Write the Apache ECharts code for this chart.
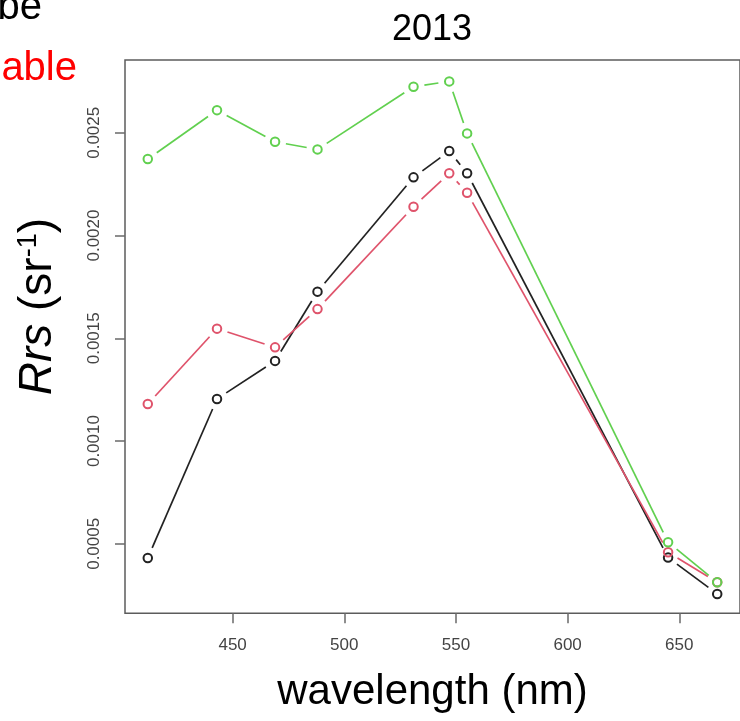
<!DOCTYPE html>
<html>
<head>
<meta charset="utf-8">
<script src="https://cdn.jsdelivr.net/npm/echarts@6/dist/echarts.min.js"></script>
<style>
html,body{margin:0;padding:0;background:#fff;}
#chart{width:740px;height:721px;}
</style>
</head>
<body>
<div id="chart"></div>
<script>
// ---- data ----
const wavelengths = [412, 443, 469, 488, 531, 547, 555, 645, 667];
const rrsBlack = [0.000431, 0.001205, 0.001390, 0.001727, 0.002283, 0.002411, 0.002303, 0.000433, 0.000256];
const rrsRed   = [0.001180, 0.001547, 0.001456, 0.001642, 0.002140, 0.002303, 0.002208, 0.000459, 0.000313];
const rrsGreen = [0.002372, 0.002610, 0.002456, 0.002419, 0.002724, 0.002750, 0.002497, 0.000508, 0.000313];
const xTicks = [450, 500, 550, 600, 650];
const yTicks = [0.0005, 0.0010, 0.0015, 0.0020, 0.0025];
const titleText = '2013';
const xTitle = 'wavelength (nm)';

// ---- chart ----
const FONT = 'Liberation Sans, Arial, sans-serif';
const GAP = 11; // px gap left around each point (R type = "b")
const groups = [
  { name: 'black', values: rrsBlack, color: '#222222' },
  { name: 'red',   values: rrsRed,   color: '#DF536B' },
  { name: 'green', values: rrsGreen, color: '#61D04F' }
];
const series = [];
groups.forEach((g, k) => {
  const segs = [];
  for (let i = 0; i + 1 < wavelengths.length; i++) {
    segs.push([wavelengths[i], g.values[i], wavelengths[i + 1], g.values[i + 1]]);
  }
  series.push({
    type: 'custom', name: g.name + '-line', data: segs,
    encode: { x: [0, 2], y: [1, 3] },
    z: 2 + k, silent: true, clip: false,
    renderItem: function (params, api) {
      const a = api.coord([api.value(0), api.value(1)]);
      const b = api.coord([api.value(2), api.value(3)]);
      const dx = b[0] - a[0], dy = b[1] - a[1];
      const len = Math.sqrt(dx * dx + dy * dy);
      if (len <= 2 * GAP + 1) return null;
      const ux = dx / len, uy = dy / len;
      return {
        type: 'line',
        shape: { x1: a[0] + ux * GAP, y1: a[1] + uy * GAP, x2: b[0] - ux * GAP, y2: b[1] - uy * GAP },
        style: { stroke: g.color, lineWidth: 1.7, fill: null }
      };
    }
  });
});
groups.forEach((g, k) => {
  const pts = wavelengths.map((w, i) => [w, g.values[i]]);
  series.push({
    type: 'scatter', name: g.name, data: pts, symbol: 'circle', symbolSize: 8.5,
    itemStyle: { color: 'rgba(255,255,255,0)', borderColor: g.color, borderWidth: 2, opacity: 1 },
    z: 10 + k, silent: true
  });
});

const chart = echarts.init(document.getElementById('chart'), null, { renderer: 'canvas' });
chart.setOption({
  animation: false,
  backgroundColor: '#ffffff',
  grid: {
    left: 125, top: 60, width: 618.8, height: 553.3,
    show: true, borderColor: '#5c5c5c', borderWidth: 1.5, backgroundColor: 'transparent'
  },
  xAxis: {
    type: 'value', min: 401.8, max: 677.2,
    axisLine: { show: false },
    splitLine: { show: false },
    axisTick: { show: true, inside: false, length: 10, customValues: xTicks,
      lineStyle: { color: '#6a6a6a', width: 1.5 } },
    axisLabel: { show: true, customValues: xTicks, margin: 24, fontSize: 17,
      color: '#444', fontFamily: FONT },
    name: xTitle, nameLocation: 'middle', nameGap: 58,
    nameTextStyle: { fontSize: 42, color: '#000', fontFamily: FONT }
  },
  yAxis: {
    type: 'value', min: 0.000162, max: 0.002854,
    axisLine: { show: false },
    splitLine: { show: false },
    axisTick: { show: true, inside: false, length: 10, customValues: yTicks,
      lineStyle: { color: '#6a6a6a', width: 1.5 } },
    axisLabel: { show: true, customValues: yTicks, rotate: 90, margin: 22, fontSize: 17,
      color: '#444', fontFamily: FONT, formatter: v => Number(v).toFixed(4) },
    name: '{it|Rrs} (sr{sup|-1})', nameLocation: 'middle', nameGap: 64,
    nameTextStyle: {
      fontSize: 46, color: '#000', fontFamily: FONT, padding: [0, 0, 0, 60],
      rich: {
        it: { fontStyle: 'italic', fontSize: 46, fontFamily: FONT, color: '#000' },
        sup: { fontSize: 27, fontFamily: FONT, color: '#000', verticalAlign: 'top' }
      }
    }
  },
  graphic: [
    { type: 'text', x: 432, y: 30, silent: true,
      style: { text: titleText, font: '36px ' + FONT, fill: '#000',
        textAlign: 'center', align: 'center', textVerticalAlign: 'middle', verticalAlign: 'middle' } },
    { type: 'text', x: 42, y: 8, silent: true,
      style: { text: 'be', font: '40px ' + FONT, fill: '#000',
        textAlign: 'right', align: 'right', textVerticalAlign: 'middle', verticalAlign: 'middle' } },
    { type: 'text', x: 77, y: 69, silent: true,
      style: { text: 'able', font: '40px ' + FONT, fill: '#ff0000',
        textAlign: 'right', align: 'right', textVerticalAlign: 'middle', verticalAlign: 'middle' } }
  ],
  series: series
});
</script>
</body>
</html>
